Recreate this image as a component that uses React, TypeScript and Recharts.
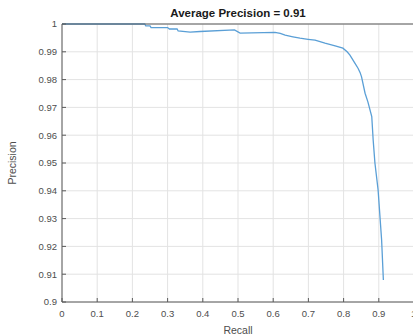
import { CartesianGrid, Line, LineChart, XAxis, YAxis } from 'recharts';

const recall = [
  0, 0.235, 0.238, 0.25, 0.253, 0.3, 0.305, 0.327, 0.33, 0.364, 0.392, 0.49, 0.506, 0.605,
  0.62, 0.634, 0.656, 0.676, 0.699, 0.719, 0.747, 0.776, 0.798, 0.81, 0.818, 0.832, 0.841,
  0.847, 0.851, 0.861, 0.869, 0.88, 0.884, 0.889, 0.898, 0.908, 0.913,
];
const precision = [
  1, 1, 0.9993, 0.9993, 0.9987, 0.9987, 0.9982, 0.9982, 0.9975, 0.9971, 0.9973, 0.9979,
  0.9967, 0.997, 0.9966, 0.996, 0.9954, 0.9949, 0.9945, 0.9942, 0.9931, 0.9921, 0.9913,
  0.99, 0.9888, 0.9859, 0.9841, 0.9825, 0.981, 0.9751, 0.972, 0.9667, 0.9583, 0.95, 0.9403,
  0.9223, 0.9079,
];
const xTicks = [0, 0.1, 0.2, 0.3, 0.4, 0.5, 0.6, 0.7, 0.8, 0.9, 1];
const yTicks = [0.9, 0.91, 0.92, 0.93, 0.94, 0.95, 0.96, 0.97, 0.98, 0.99, 1];

const title = 'Average Precision = 0.91';
const xLabel = 'Recall';
const yLabel = 'Precision';

const FONT = '"Liberation Sans", Arial, sans-serif';
const AXIS = '#5a5a5a';
const TEXT = '#4d4d4d';

const fmt = (v: number) => String(Number(v.toFixed(2)));

export default function App() {
  const data = recall.map((r, i) => ({ recall: r, precision: precision[i] }));

  return (
    <div
      style={{
        position: 'absolute',
        left: 0,
        top: 0,
        width: 413,
        height: 335,
        overflow: 'hidden',
        background: '#fff',
      }}
    >
      <LineChart
        width={416}
        height={335}
        data={data}
        margin={{ top: 0, right: 0, bottom: 0, left: 0 }}
        style={{ fontFamily: FONT }}
      >
        <CartesianGrid stroke="#e3e3e3" strokeWidth={1} />
        <XAxis
          type="number"
          dataKey="recall"
          domain={[0, 1]}
          ticks={xTicks}
          tickFormatter={fmt}
          height={33}
          tickSize={-4}
          tickMargin={12}
          stroke={AXIS}
          tick={{ fontSize: 9.5, fill: TEXT }}
          label={{
            content: ({ viewBox }: any) => (
              <text
                x={viewBox.x + viewBox.width / 2}
                y={viewBox.y + viewBox.height - 1.5}
                textAnchor="middle"
                fontSize={10.5}
                fill={TEXT}
                fontFamily={FONT}
              >
                {xLabel}
              </text>
            ),
          }}
        />
        <XAxis
          xAxisId="top"
          orientation="top"
          type="number"
          dataKey="recall"
          domain={[0, 1]}
          ticks={xTicks}
          height={24}
          tickSize={-4}
          tick={false}
          stroke={AXIS}
          label={{
            content: ({ viewBox }: any) => (
              <text
                x={viewBox.x + viewBox.width / 2}
                y={viewBox.y + viewBox.height - 7.5}
                textAnchor="middle"
                fontSize={11.5}
                fontWeight="bold"
                fill="#1a1a1a"
                fontFamily={FONT}
              >
                {title}
              </text>
            ),
          }}
        />
        <YAxis
          type="number"
          domain={[0.9, 1]}
          ticks={yTicks}
          tickFormatter={fmt}
          width={62}
          tickSize={-4}
          tickMargin={9}
          stroke={AXIS}
          tick={{ fontSize: 9.5, fill: TEXT }}
          label={{
            content: ({ viewBox }: any) => {
              const cx = viewBox.x + 12;
              const cy = viewBox.y + viewBox.height / 2;
              return (
                <text
                  x={cx}
                  y={cy}
                  transform={`rotate(-90, ${cx}, ${cy})`}
                  textAnchor="middle"
                  dominantBaseline="central"
                  fontSize={10.5}
                  fill={TEXT}
                  fontFamily={FONT}
                >
                  {yLabel}
                </text>
              );
            },
          }}
        />
        <YAxis
          yAxisId="right"
          orientation="right"
          type="number"
          domain={[0.9, 1]}
          ticks={yTicks}
          width={2}
          tickSize={-4}
          tick={false}
          stroke={AXIS}
        />
        <Line
          type="linear"
          dataKey="precision"
          stroke="#5a9fd6"
          strokeWidth={1.3}
          dot={false}
          isAnimationActive={false}
        />
      </LineChart>
    </div>
  );
}
